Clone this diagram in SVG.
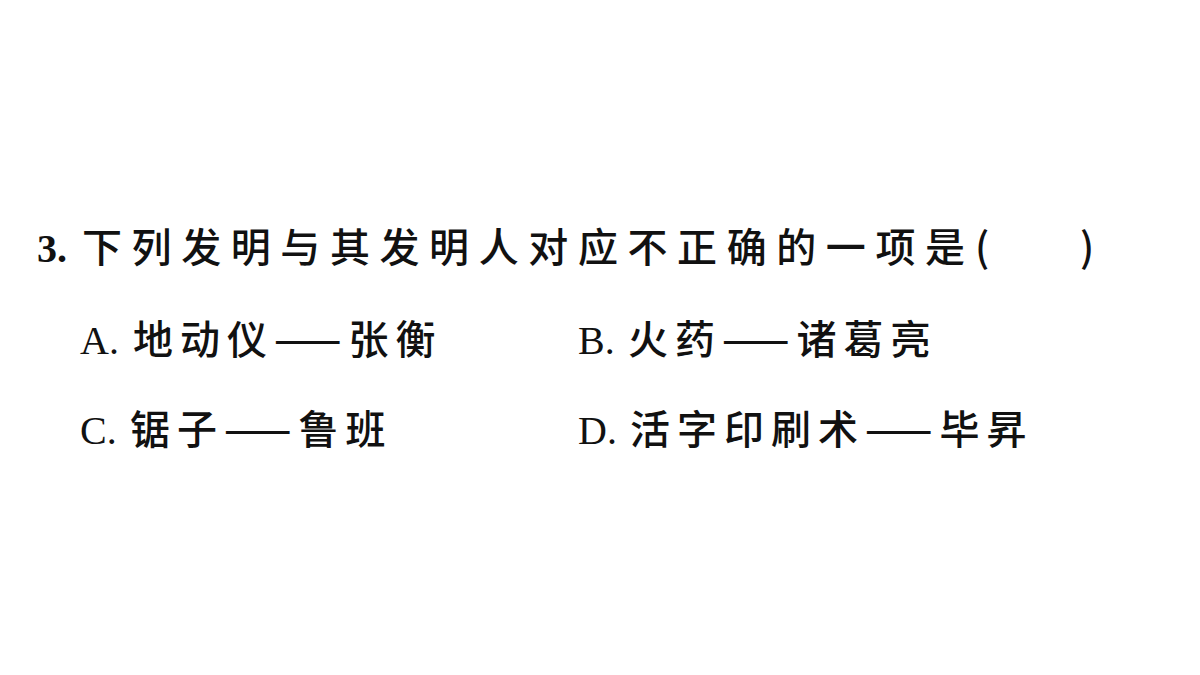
<svg xmlns="http://www.w3.org/2000/svg" width="1200" height="675" viewBox="0 0 1200 675">
<style>
.l{font-family:"Liberation Serif",serif;font-size:40px;fill:#111}
.c{font-family:"Noto Sans CJK SC",sans-serif;font-size:40px;font-weight:500;fill:#111;letter-spacing:7px}
</style>
<rect width="1200" height="675" fill="#fff"/>
<text x="37" y="262" class="l" font-weight="bold">3.</text>
<text x="82" y="262" class="c" textLength="890">下列发明与其发明人对应不正确的一项是</text>
<text x="975" y="262" class="c">(</text>
<text x="1080" y="262" class="c">)</text>
<text x="80" y="354" class="l">A.</text>
<text x="133" y="354" class="c">地动仪——张衡</text>
<text x="578" y="354" class="l">B.</text>
<text x="628" y="354" class="c">火药——诸葛亮</text>
<text x="80" y="444" class="l">C.</text>
<text x="130" y="444" class="c">锯子——鲁班</text>
<text x="578" y="444" class="l">D.</text>
<text x="630" y="444" class="c">活字印刷术——毕昇</text>
</svg>
